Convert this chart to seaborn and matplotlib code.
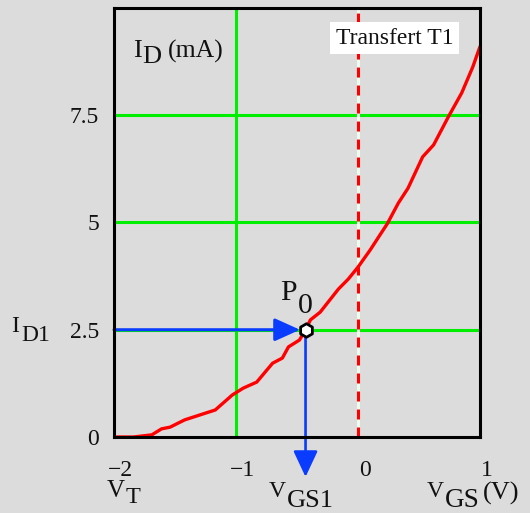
import matplotlib
matplotlib.use("Agg")
import matplotlib.pyplot as plt
import seaborn as sns
from matplotlib import transforms

# Transfer characteristic of T1: drain current vs gate-source voltage
vgs = [-2.00, -1.84, -1.69, -1.61, -1.54, -1.42, -1.17, -1.03, -0.94, -0.83,
       -0.70, -0.62, -0.57, -0.48, -0.43, -0.39, -0.31, -0.16, -0.08, 0.00,
       0.10, 0.18, 0.24, 0.33, 0.41, 0.53, 0.62, 0.74, 0.85, 0.94,
       0.99, 1.00]
id_ma = [0.00, 0.00, 0.05, 0.19, 0.23, 0.40, 0.63, 0.98, 1.14, 1.28,
         1.72, 1.84, 2.10, 2.26, 2.50, 2.73, 2.91, 3.45, 3.68, 3.96,
         4.36, 4.71, 4.97, 5.45, 5.80, 6.53, 6.81, 7.46, 8.02, 8.62,
         9.02, 9.10]

# Operating point P0
p0_vgs = -0.43
p0_id = 2.5

x_ticks = [-2, -1, 0, 1]
x_labels = ["\u22122", "\u22121", "0", "1"]
y_ticks = [0, 2.5, 5, 7.5]
y_labels = ["0", "2.5", "5", "7.5"]
grid_x = [-1]
grid_y = [2.5, 5, 7.5]
marker_x = 0.0

BG = "#dcdcdc"
GREEN = "#00ee00"
BLUE = "#0a3cff"
INK = "#111111"

sns.set_theme(style="white")
plt.rcParams["font.family"] = ["Liberation Serif", "DejaVu Serif"]

fig = plt.figure(figsize=(5.30, 5.13), dpi=100, facecolor=BG)
ax = fig.add_axes([114 / 530, 1 - 437 / 513, 366 / 530, 429 / 513])
ax.set_facecolor(BG)
ax.grid(False)

for gx in grid_x:
    ax.axvline(gx, color=GREEN, lw=2.2, zorder=1)
for gy in grid_y:
    ax.axhline(gy, color=GREEN, lw=2.2, zorder=1)

# dashed marker at VGS = 0
ax.axvline(marker_x, color="#eefcee", lw=2.2, zorder=2)
ax.axvline(marker_x, color="red", lw=2.2, dashes=(3.27, 2.62), zorder=2)

sns.lineplot(x=vgs, y=id_ma, ax=ax, color="red", lw=2.4, sort=False,
             estimator=None, zorder=4)

# projection arrows from the operating point
ax.annotate("", xy=(p0_vgs, p0_id), xytext=(-2, p0_id),
            arrowprops=dict(arrowstyle="-|>,head_length=15.5,head_width=7",
                            mutation_scale=1, color=BLUE, lw=2.2,
                            shrinkA=0, shrinkB=4),
            annotation_clip=False, zorder=5)
ax.annotate("", xy=(p0_vgs, -0.93), xytext=(p0_vgs, p0_id),
            arrowprops=dict(arrowstyle="-|>,head_length=16,head_width=7.5",
                            mutation_scale=1, color=BLUE, lw=1.9,
                            shrinkA=4, shrinkB=0),
            annotation_clip=False, zorder=5)

sns.scatterplot(x=[p0_vgs], y=[p0_id], ax=ax, marker="h", s=95,
                color="white", edgecolor="black", linewidth=2, zorder=6,
                clip_on=False)

ax.set_xlim(-2, 1)
ax.set_ylim(0, 10)
ax.set_xticks(x_ticks, x_labels)
ax.set_yticks(y_ticks, y_labels)
ax.tick_params(axis="x", length=0, pad=16.5, labelsize=17, labelcolor=INK)
ax.tick_params(axis="y", length=0, pad=10.8, labelsize=17, labelcolor=INK)
shift = transforms.ScaledTranslation(6.5 / 100, 0, fig.dpi_scale_trans)
for lbl in ax.get_xticklabels():
    lbl.set_transform(lbl.get_transform() + shift)
ax.set_xlabel("")
ax.set_ylabel("")

for sp in ax.spines.values():
    sp.set_visible(True)
    sp.set_color("black")
    sp.set_linewidth(2.2)
    sp.set_zorder(7)

# text in pixel coordinates (origin top-left)
pix = transforms.Affine2D().scale(1 / 530, -1 / 513).translate(0, 1) + fig.transFigure


def put(x, y, s, size):
    fig.text(x, y, s, transform=pix, fontsize=size, color=INK,
             ha="left", va="baseline", zorder=10)


put(133, 57, "I", 19)
put(142, 63, "D", 19)
put(168, 58, "(mA)", 18.5)

put(280, 300, "P", 21.5)
put(298, 313, "0", 21.5)

put(11, 332, "I", 17)
put(21, 341, "D1", 17)

put(107, 497, "V", 18)
put(126, 503, "T", 17.5)

put(269, 497, "V", 17)
put(287, 507, "GS1", 19)

put(427, 497, "V", 17)
put(445, 507, "GS", 19.5)
put(483, 500, "(V)", 19)

fig.text(394.5, 38, "Transfert T1", transform=pix, fontsize=17, color=INK,
         ha="center", va="center", zorder=10,
         bbox=dict(boxstyle="square,pad=0.22", facecolor="white",
                   edgecolor="none"))

fig.savefig("out.png", dpi=100, facecolor=fig.get_facecolor())
